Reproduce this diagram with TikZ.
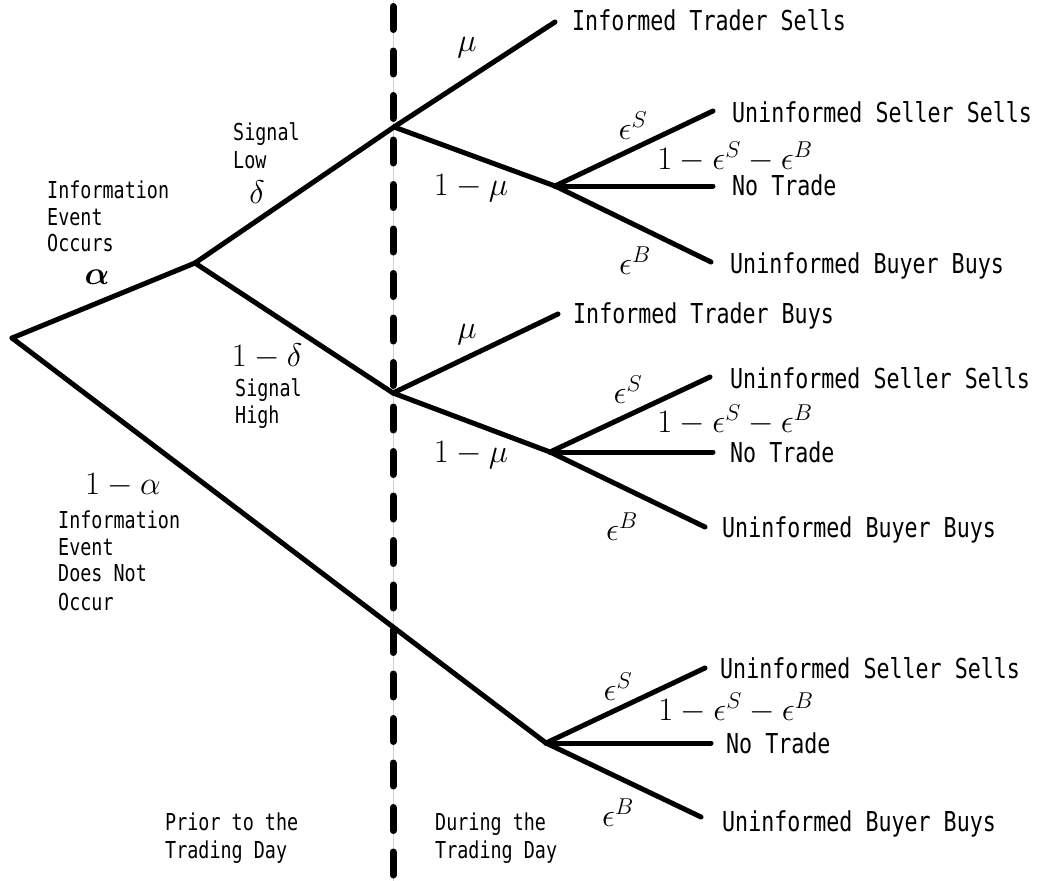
\RequirePackage{fix-cm}
\documentclass[tikz,border=0pt]{standalone}
\usepackage{amsmath}
\usepackage{fontspec}
\newfontfamily\gothic[FakeStretch=0.79]{DejaVu Sans Mono}
\tikzset{
  branch/.style={line width=5pt, line cap=round, line join=round},
  outcome/.style={anchor=base west, inner sep=0pt, font=\gothic\fontsize{27.4}{30}\selectfont},
  smalltxt/.style={anchor=base west, inner sep=0pt, font=\gothic\fontsize{23.3}{27}\selectfont},
  prob/.style={inner sep=0pt, font=\fontsize{32.7}{36}\selectfont},
}
\begin{document}
\begin{tikzpicture}[x=1pt,y=-1pt]
\useasboundingbox (0,0) rectangle (1039,881);
% timeline separator
\draw[gray!35, line width=1pt] (393,0) -- (393,881);
\draw[line width=7pt, line cap=round, dash pattern=on 23pt off 21.5pt] (393,6.5) -- (393,890);

% decision points
\coordinate (R) at (12,338);
\coordinate (A) at (195,263);
\coordinate (L) at (394,127);
\coordinate (H) at (393,393);
\coordinate (LU) at (555,186);
\coordinate (HU) at (550,452);
\coordinate (BU) at (546,743);
% branch ends
\coordinate (its) at (555,22);
\coordinate (itb) at (558,314);
\coordinate (uss1) at (713,111);
\coordinate (nt1) at (713,186);
\coordinate (ubb1) at (711,262);
\coordinate (uss2) at (710,377);
\coordinate (nt2) at (713,452);
\coordinate (ubb2) at (705,527);
\coordinate (uss3) at (705,668);
\coordinate (nt3) at (711,743);
\coordinate (ubb3) at (701,817);

% branches
\draw[branch] (R) -- (A);
\draw[branch] (R) -- (BU);
\draw[branch] (A) -- (L);
\draw[branch] (A) -- (H);
\draw[branch] (L) -- (its);
\draw[branch] (L) -- (LU);
\draw[branch] (H) -- (itb);
\draw[branch] (H) -- (HU);
\draw[branch] (LU) -- (uss1);
\draw[branch] (LU) -- (nt1);
\draw[branch] (LU) -- (ubb1);
\draw[branch] (HU) -- (uss2);
\draw[branch] (HU) -- (nt2);
\draw[branch] (HU) -- (ubb2);
\draw[branch] (BU) -- (uss3);
\draw[branch] (BU) -- (nt3);
\draw[branch] (BU) -- (ubb3);

% outcome labels
\node[outcome] (tits) at (572,30) {Informed Trader Sells};
\node[outcome] (tuss1) at (732,122) {Uninformed Seller Sells};
\node[outcome] (tnt1) at (732,195) {No Trade};
\node[outcome] (tubb1) at (730,273) {Uninformed Buyer Buys};
\node[outcome] (titb) at (573,323) {Informed Trader Buys};
\node[outcome] (tuss2) at (730,388) {Uninformed Seller Sells};
\node[outcome] (tnt2) at (730,462) {No Trade};
\node[outcome] (tubb2) at (722,537) {Uninformed Buyer Buys};
\node[outcome] (tuss3) at (720,678) {Uninformed Seller Sells};
\node[outcome] (tnt3) at (726,753) {No Trade};
\node[outcome] (tubb3) at (722,831) {Uninformed Buyer Buys};

% left descriptive labels
\node[smalltxt] (ie1) at (47,198.5) {Information};
\node[smalltxt] (ie2) at (47,225.5) {Event};
\node[smalltxt] (ie3) at (47,251.5) {Occurs};
\node[smalltxt] (sl1) at (233,140.5) {Signal};
\node[smalltxt] (sl2) at (233,168.5) {Low};
\node[smalltxt] (sh1) at (235,396.5) {Signal};
\node[smalltxt] (sh2) at (235,423.5) {High};
\node[smalltxt] (in1) at (58,528.5) {Information};
\node[smalltxt] (in2) at (58,555.5) {Event};
\node[smalltxt] (in3) at (58,581.5) {Does Not};
\node[smalltxt] (in4) at (58,610.5) {Occur};
\node[smalltxt] (pr1) at (165,830.5) {Prior to the};
\node[smalltxt] (pr2) at (165,858.5) {Trading Day};
\node[smalltxt] (du1) at (435,830.5) {During the};
\node[smalltxt] (du2) at (435,858.5) {Trading Day};

% probabilities
\node[prob] (palpha) at (97,277) {$\boldsymbol{\alpha}$};
\node[prob] (pdelta) at (257,192) {$\delta$};
\node[prob] (p1delta) at (267,357) {$1-\delta$};
\node[prob] (p1alpha) at (123,485) {$1-\alpha$};
\node[prob] (pmu1) at (467,48) {$\mu$};
\node[prob] (p1mu1) at (471,188) {$1-\mu$};
\node[prob] (pes1) at (633,126) {$\epsilon^S$};
\node[prob] (pn1) at (735,157) {$1-\epsilon^S-\epsilon^B$};
\node[prob] (peb1) at (635,261) {$\epsilon^B$};
\node[prob] (pmu2) at (467,335) {$\mu$};
\node[prob] (p1mu2) at (471,455) {$1-\mu$};
\node[prob] (pes2) at (628,390) {$\epsilon^S$};
\node[prob] (pn2) at (735,420) {$1-\epsilon^S-\epsilon^B$};
\node[prob] (peb2) at (622,527) {$\epsilon^B$};
\node[prob] (pes3) at (618,687) {$\epsilon^S$};
\node[prob] (pn3) at (736,708) {$1-\epsilon^S-\epsilon^B$};
\node[prob] (peb3) at (618,813) {$\epsilon^B$};
\end{tikzpicture}
\end{document}
